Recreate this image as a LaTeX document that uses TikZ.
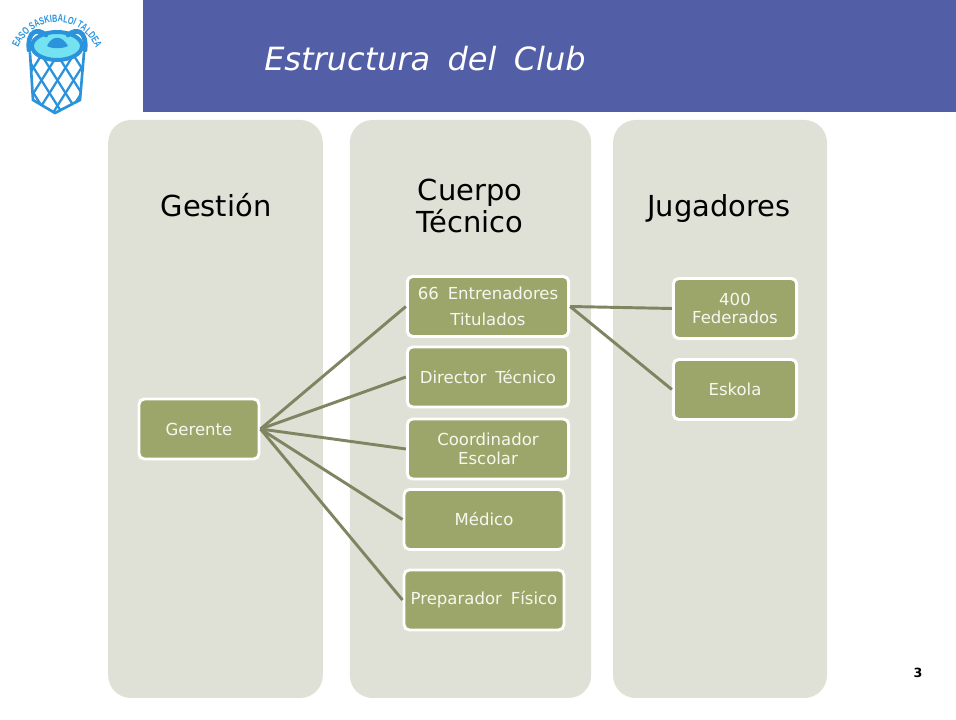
\documentclass[tikz,border=0pt]{standalone}
\usepackage{fontspec}
\setmainfont{DejaVu Sans}[WordSpace=1.7]
\newfontfamily\logofont{Liberation Sans}[FakeStretch=0.7]
\usetikzlibrary{decorations.text}
\definecolor{bandblue}{HTML}{525EA6}
\definecolor{panelgrey}{HTML}{DFE1D6}
\definecolor{boxolive}{HTML}{9DA66A}
\definecolor{linkolive}{HTML}{7F8560}
\definecolor{boxtext}{HTML}{F6F8EF}
\definecolor{logoblue}{HTML}{2A93DC}
\definecolor{logocyan}{HTML}{74E2F0}
\tikzstyle{panel} = [
  rectangle, fill = panelgrey, rounded corners = 17pt, minimum height = 433.5pt
]
\tikzstyle{panelhead} = [
  text = black, align = center, anchor = base, font = \fontsize{21.7}{24}\selectfont
]
\tikzstyle{block} = [
  rectangle, draw = white, fill = boxolive, line width = 2.2pt, rounded corners = 4pt,
  text = boxtext, align = center, inner sep = 0pt, minimum height = 45pt,
  font = \fontsize{12.4}{14}\selectfont
]
\tikzstyle{link} = [draw = linkolive, line width = 2.2pt]
\tikzstyle{net} = [draw = logoblue, line width = 1.7pt, line cap = round]

\begin{document}
\begin{tikzpicture}[x=0.75pt, y=0.75pt]
    \useasboundingbox (0,0) rectangle (956,720);
    % band and title
    \fill[bandblue] (143,608) rectangle (956,720);
    \node[anchor=base west, inner sep=0pt, text=white, font=\fontsize{24}{28}\selectfont\itshape] (title) at (264,649) {Estructura del Club};

    % panels
    \node[panel, minimum width=161pt] (gestion) at (215.5,311) {};
    \node[panel, minimum width=181pt] (cuerpo) at (470.5,311) {};
    \node[panel, minimum width=160.5pt] (jugadores) at (720,311) {};
    \node[panelhead] (gestionhead) at (216,503) {Gestión};
    \node[panelhead] (cuerpohead) at (470,487) {Cuerpo\\Técnico};
    \node[panelhead] (jugadoreshead) at (719,503) {Jugadores};

    % blocks
    \node[block, minimum width=90pt] (gerente) at (199,291) {Gerente};
    \node[block, minimum width=121pt, font=\fontsize{12.4}{20}\selectfont] (entrenadores) at (488,413.5) {66 Entrenadores\\Titulados};
    \node[block, minimum width=121pt] (director) at (488,343) {Director Técnico};
    \node[block, minimum width=121pt] (coordinador) at (488,271) {Coordinador\\Escolar};
    \node[block, minimum width=120pt] (medico) at (484,200.5) {Médico};
    \node[block, minimum width=120pt] (preparador) at (484,120) {Preparador Físico};
    \node[block, minimum width=92.5pt] (federados) at (735,411.5) {400\\Federados};
    \node[block, minimum width=92.5pt] (eskola) at (735,330.5) {Eskola};

    % links
    \foreach \target in {entrenadores, director, coordinador, medico, preparador}
      \draw[link] (gerente.east) -- (\target.west);
    \draw[link] (entrenadores.east) -- (federados.west);
    \draw[link] (entrenadores.east) -- (eskola.west);

    % page number
    \node[font=\fontsize{9.5}{10}\selectfont\bfseries] (pagenum) at (918,47) {3};

    % logo
    \begin{scope}
      \clip (30,667) -- (33,620) -- (55,607) -- (80,620) -- (84,667) -- cycle;
      \foreach \x in {-16,0,16,32,48,64,80}
        \draw[net] (\x,680) -- (\x+48,604);
      \foreach \x in {131,115,99,83,67,51,35}
        \draw[net] (\x,680) -- (\x-48,604);
    \end{scope}
    \draw[net, line width=2pt] (30,667) -- (33,620) -- (55,607) -- (80,620) -- (84,667);
    \draw[logoblue, line width=3pt, fill=logocyan] (57,674) ellipse (25 and 14);
    \fill[logoblue] (47,674) .. controls (52,685) and (62,685) .. (68,674) .. controls (62,671) and (52,671) .. (47,674) -- cycle;
    \draw[logoblue, line width=3.5pt, line cap=round] (29,670) .. controls (27,690) and (38,692) .. (46,685);
    \draw[logoblue, line width=3.5pt, line cap=round] (85,670) .. controls (87,690) and (76,692) .. (68,685);
    \path[decorate, decoration={text along path, text align=center,
        text={|\logofont\fontsize{7.8}{8}\selectfont\bfseries\color{logoblue}|EASO SASKIBALOI TALDEA}}]
      (57,656) ++(156:42) arc (156:24:42);
\end{tikzpicture}
\end{document}
